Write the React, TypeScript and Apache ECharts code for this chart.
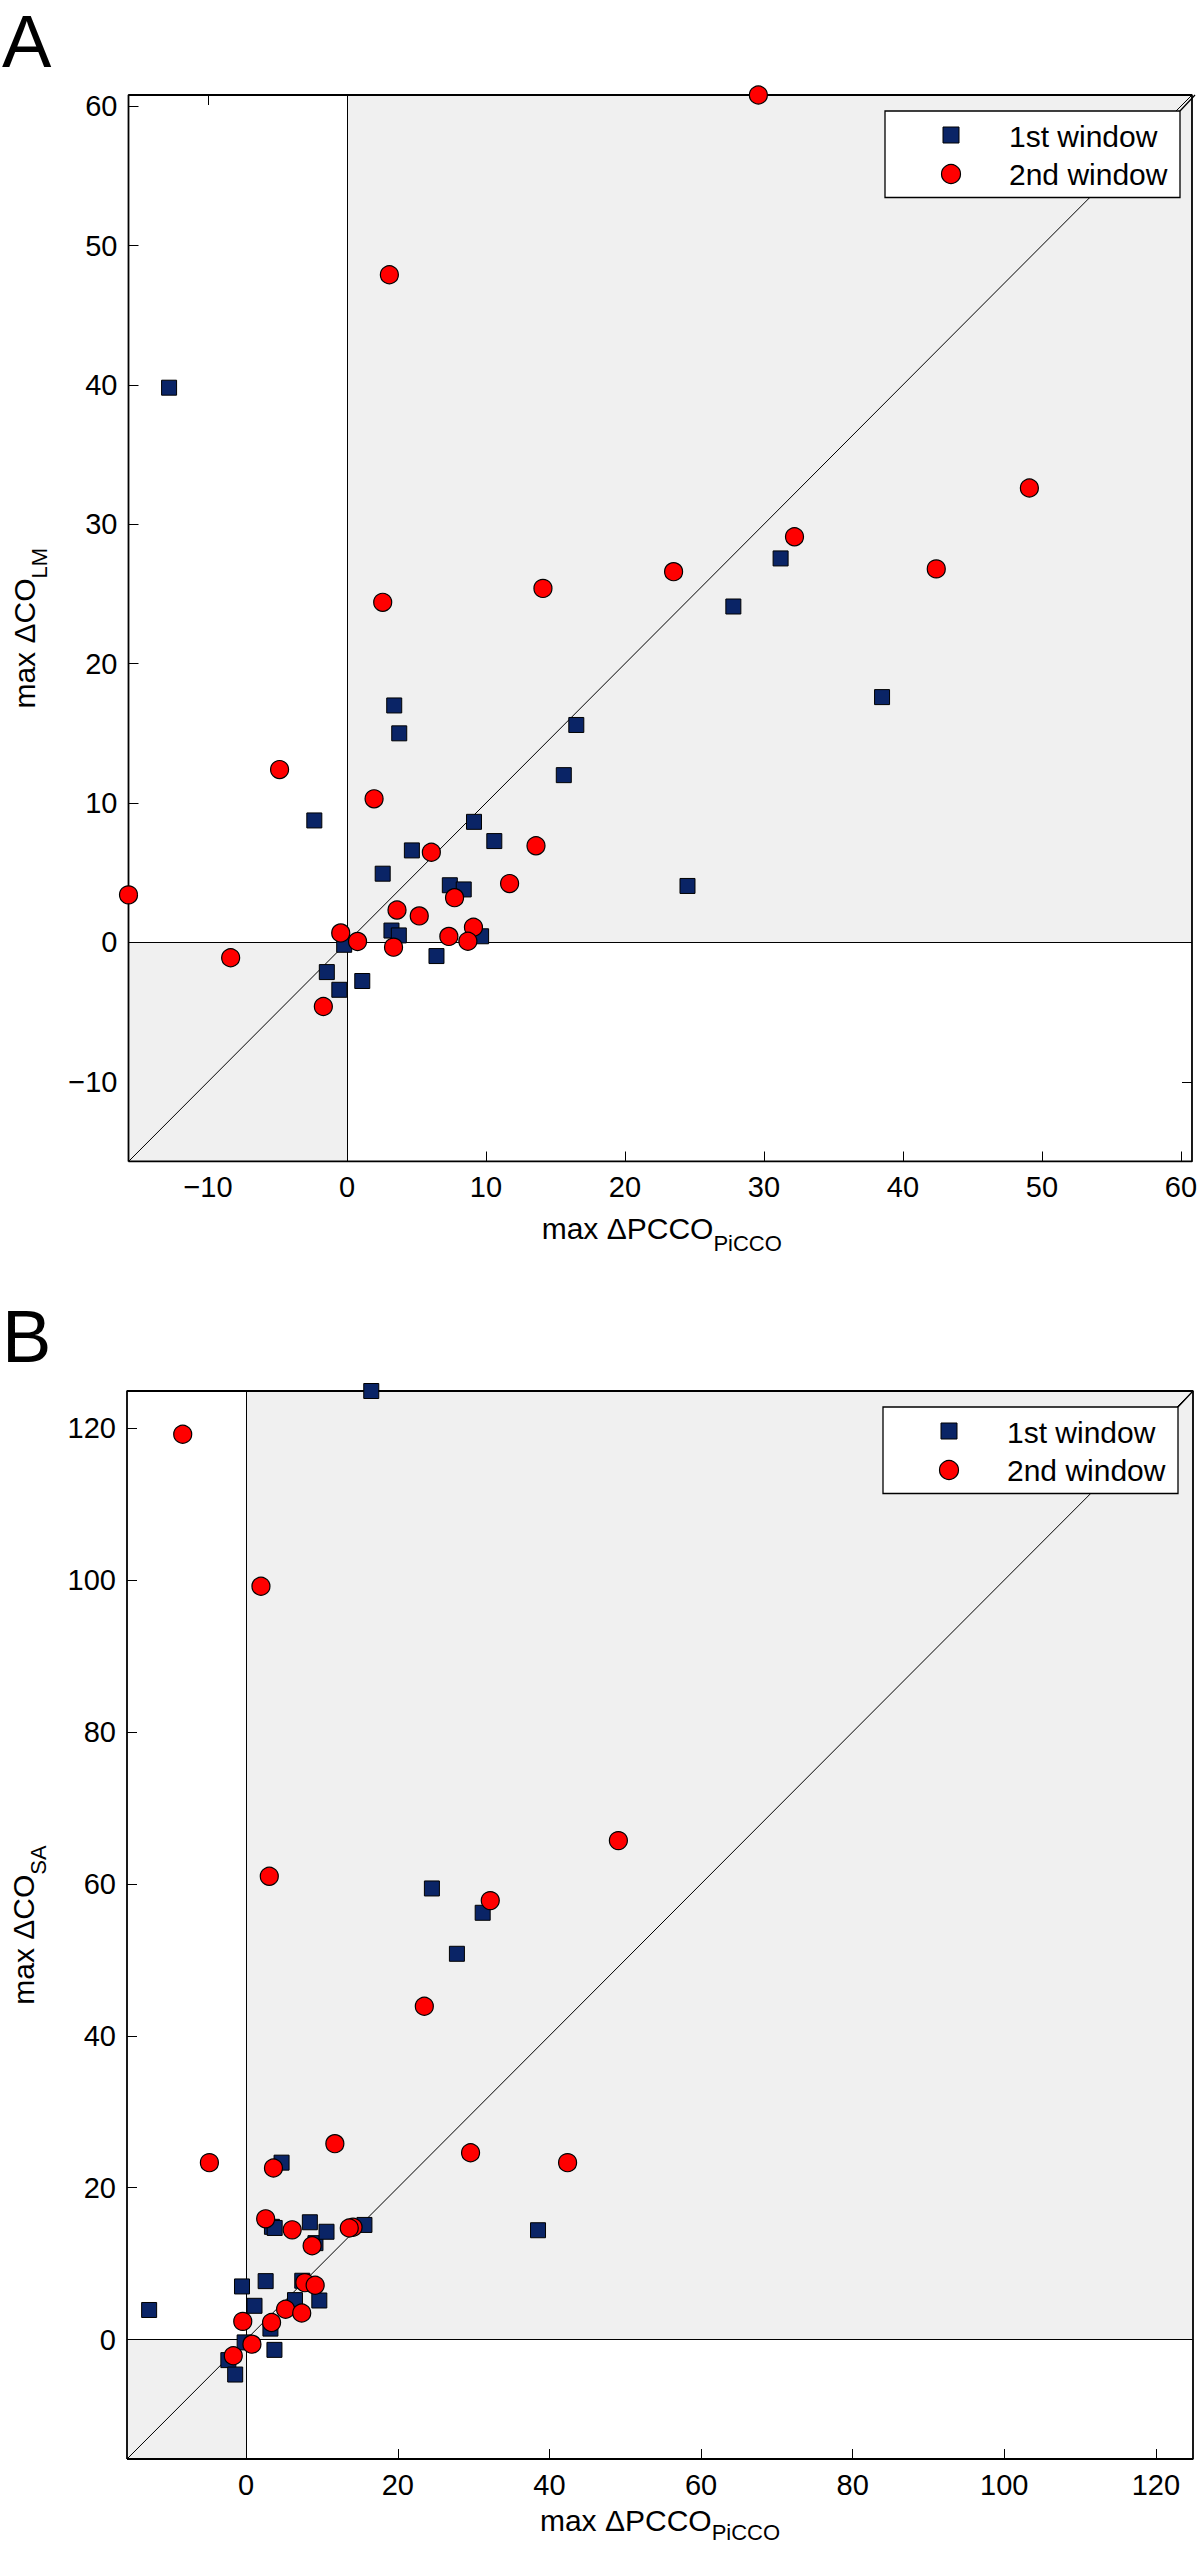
import React, { useEffect, useRef } from "react";
import * as echarts from "echarts";

const FONT = "'Liberation Sans', Arial, Helvetica, sans-serif";

// ---- data: max ΔPCCO_PiCCO (x) vs max ΔCO_LM (panel A) and max ΔCO_SA (panel B)
// 1st window (squares)
const firstX = [-12.8, 31.2, 27.8, 38.5, 24.5, 3.4, 3.76, 16.5, 15.6, -2.35, 9.14, 10.6, 4.67, 2.57, 7.4, 8.4, 3.2, 3.73, 9.65, -0.2, 6.44, -1.45, 1.1, -0.55];
const firstLM = [39.8, 27.55, 24.1, 17.6, 4.05, 17.0, 15.0, 15.6, 12.0, 8.75, 8.65, 7.27, 6.6, 4.93, 4.1, 3.8, 0.85, 0.5, 0.44, -0.17, -0.98, -2.13, -2.77, -3.4];
const firstSA = [3.9, 56.2, 50.8, 14.4, 59.4, 14.85, 14.7, 124.9, 15.1, -2.7, 12.7, 14.2, 23.3, 7.7, 7.75, 15.45, 1.45, -1.35, 5.15, -0.37, 5.2, -4.6, 4.45, 7.0];
// 2nd window (circles)
const secondX = [3.05, 2.57, 14.1, 29.6, 49.1, 32.2, 23.5, 42.4, -4.85, 1.95, 13.6, 6.07, 11.7, 7.74, -15.72, 3.6, 5.2, 9.1, -0.45, 0.76, 7.33, 8.7, 3.35, -8.37, -1.7];
const secondLM = [47.9, 24.4, 25.4, 60.8, 32.6, 29.1, 26.6, 26.8, 12.4, 10.3, 6.93, 6.47, 4.22, 3.21, 3.41, 2.32, 1.9, 1.09, 0.68, 0.07, 0.43, 0.08, -0.34, -1.1, -4.6];
const secondSA = [61.0, 15.9, 14.8, 24.6, 65.7, 57.8, 43.9, 23.3, 23.3, 99.2, 14.7, 14.45, 25.8, 7.5, null, 22.6, 4.0, 7.15, 2.4, -0.6, 3.5, 12.35, 2.25, 119.2, -2.12];

const ticksA = [-10, 0, 10, 20, 30, 40, 50, 60];
const ticksB = [0, 20, 40, 60, 80, 100, 120];
const seriesNames = ["1st window", "2nd window"];
const panelLetters = ["A", "B"];
const yTitleMain = "max ΔCO";
const yTitleSubs = ["LM", "SA"];
const xTitleMain = "max ΔPCCO";
const xTitleSub = "PiCCO";

const BLUE = "#0a2466";
const RED = "#ff0000";
const SHADE = "#f0f0f0";

const PANELS = [
  { left: 128.5, top: 95, width: 1066.5, height: 1066.5, yFirst: firstLM, ySecond: secondLM, ticks: ticksA, letterY: 41.5, yTitleX: 24, xTitleY: 1228 },
  { left: 127, top: 1391, width: 1066, height: 1068, yFirst: firstSA, ySecond: secondSA, ticks: ticksB, letterY: 1336, yTitleX: 23, xTitleY: 2520 },
];

const fmt = (v: number) => (v < 0 ? "\u2212" + Math.abs(v) : String(v));

function measure(text: string, size: number) {
  const c = document.createElement("canvas").getContext("2d");
  if (!c) return text.length * size * 0.55;
  c.font = `${size}px ${FONT}`;
  return c.measureText(text).width;
}

function pairs(xs: number[], ys: (number | null)[]) {
  const out: number[][] = [];
  xs.forEach((x, k) => {
    const y = ys[k];
    if (y !== null && y !== undefined) out.push([x, y]);
  });
  return out;
}

function titleGroup(main: string, sub: string, x: number, y: number, rotation: number, subOffset: number) {
  const mw = measure(main, 30);
  const sw = measure(sub, 22);
  const start = -(mw + sw) / 2;
  return {
    type: "group",
    x,
    y,
    rotation,
    silent: true,
    children: [
      { type: "text", x: start, y: 0, style: { text: main, fontSize: 30, fontFamily: FONT, fill: "#000", align: "left", verticalAlign: "middle", textAlign: "left", textVerticalAlign: "middle" } },
      { type: "text", x: start + mw, y: subOffset, style: { text: sub, fontSize: 22, fontFamily: FONT, fill: "#000", align: "left", verticalAlign: "middle", textAlign: "left", textVerticalAlign: "middle" } },
    ],
  };
}

function legendGroup(p: any) {
  const right = p.left + p.width - 15;
  const top = p.top + 16;
  const w = 295;
  const h = 86.5;
  const left = right - w;
  const mx = left + 66;
  const tx = left + 124;
  return {
    type: "group",
    silent: true,
    z: 30,
    children: [
      { type: "line", z: 30, shape: { x1: right, y1: top, x2: p.left + p.width, y2: p.top }, style: { stroke: "#000", lineWidth: 1.2 } },
      { type: "rect", z: 30, shape: { x: left, y: top, width: w, height: h }, style: { fill: "#fff", stroke: "#000", lineWidth: 1.3 } },
      { type: "rect", z: 31, shape: { x: mx - 8, y: top + 24 - 8, width: 16, height: 16 }, style: { fill: BLUE, stroke: "#000", lineWidth: 1 } },
      { type: "circle", z: 31, shape: { cx: mx, cy: top + 63, r: 9.5 }, style: { fill: RED, stroke: "#000", lineWidth: 1.2 } },
      { type: "text", z: 31, x: tx, y: top + 25, style: { text: seriesNames[0], fontSize: 30, fontFamily: FONT, fill: "#000", align: "left", verticalAlign: "middle", textAlign: "left", textVerticalAlign: "middle" } },
      { type: "text", z: 31, x: tx, y: top + 63, style: { text: seriesNames[1], fontSize: 30, fontFamily: FONT, fill: "#000", align: "left", verticalAlign: "middle", textAlign: "left", textVerticalAlign: "middle" } },
    ],
  };
}

function buildOption() {
  const grid: any[] = [];
  const xAxis: any[] = [];
  const yAxis: any[] = [];
  const series: any[] = [];
  const graphic: any[] = [];

  PANELS.forEach((p, i) => {
    const vals = [...firstX, ...secondX, ...(p.yFirst as (number | null)[]), ...(p.ySecond as (number | null)[])].filter(
      (v) => v !== null && v !== undefined
    ) as number[];
    const lo = Math.min(...vals);
    const hi = Math.max(...vals);

    grid.push({ left: p.left, top: p.top, width: p.width, height: p.height, containLabel: false, show: false });

    const axis = (pos: string, showLabel: boolean) => ({
      type: "value",
      gridIndex: i,
      position: pos,
      min: lo,
      max: hi,
      axisLine: { show: false, onZero: false },
      splitLine: { show: false },
      axisTick: { show: true, inside: true, length: 10, lineStyle: { color: "#000", width: 1 }, customValues: p.ticks },
      axisLabel: { show: showLabel, customValues: p.ticks, formatter: fmt, color: "#000", fontSize: 29, fontFamily: FONT, margin: 11 },
    });
    xAxis.push(axis("bottom", true), axis("top", false));
    yAxis.push(axis("left", true), axis("right", false));

    const ax = { xAxisIndex: 2 * i, yAxisIndex: 2 * i };

    series.push({
      type: "line",
      name: "identity" + i,
      ...ax,
      data: [[lo, lo], [hi, hi]],
      symbol: "none",
      silent: true,
      z: 3,
      lineStyle: { color: "#000", width: 1 },
      markArea: {
        silent: true,
        itemStyle: { color: SHADE, borderWidth: 0 },
        label: { show: false },
        data: [
          [{ coord: [0, 0] }, { coord: [hi, hi] }],
          [{ coord: [lo, lo] }, { coord: [0, 0] }],
        ],
      },
      markLine: {
        silent: true,
        symbol: ["none", "none"],
        label: { show: false },
        lineStyle: { color: "#000", width: 1, type: "solid" },
        data: [{ xAxis: 0 }, { yAxis: 0 }],
      },
    });

    series.push({
      type: "line",
      name: "frame" + i,
      ...ax,
      data: [[lo, lo], [hi, lo], [hi, hi], [lo, hi], [lo, lo]],
      symbol: "none",
      silent: true,
      z: 6,
      lineStyle: { color: "#000", width: 1.8 },
    });

    series.push({
      type: "scatter",
      name: seriesNames[0],
      ...ax,
      data: pairs(firstX, p.yFirst as (number | null)[]),
      symbol: "rect",
      symbolSize: 15,
      clip: false,
      z: 10,
      itemStyle: { color: BLUE, borderColor: "#000", borderWidth: 1, opacity: 1 },
    });
    series.push({
      type: "scatter",
      name: seriesNames[1],
      ...ax,
      data: pairs(secondX, p.ySecond as (number | null)[]),
      symbol: "circle",
      symbolSize: 18,
      clip: false,
      z: 11,
      itemStyle: { color: RED, borderColor: "#000", borderWidth: 1.2, opacity: 1 },
    });

    graphic.push({
      type: "text",
      x: 2,
      y: p.letterY,
      silent: true,
      style: { text: panelLetters[i], fontSize: 74, fontFamily: FONT, fill: "#000", align: "left", verticalAlign: "middle", textAlign: "left", textVerticalAlign: "middle" },
    });
    graphic.push(titleGroup(yTitleMain, yTitleSubs[i], p.yTitleX, p.top + p.height / 2, Math.PI / 2, 15));
    graphic.push(titleGroup(xTitleMain, xTitleSub, p.left + p.width / 2, p.xTitleY, 0, i === 1 ? 12 : 15));
    graphic.push(legendGroup(p));
  });

  return {
    animation: false,
    backgroundColor: "#fff",
    textStyle: { fontFamily: FONT },
    grid,
    xAxis,
    yAxis,
    series,
    graphic,
  };
}

export default function App() {
  const ref = useRef<HTMLDivElement>(null);
  useEffect(() => {
    document.body.style.margin = "0";
    const chart = echarts.init(ref.current as HTMLDivElement, null, { renderer: "svg" });
    chart.setOption(buildOption() as any);
    return () => chart.dispose();
  }, []);
  return <div ref={ref} style={{ position: "absolute", left: 0, top: 0, width: 1200, height: 2549 }} />;
}
